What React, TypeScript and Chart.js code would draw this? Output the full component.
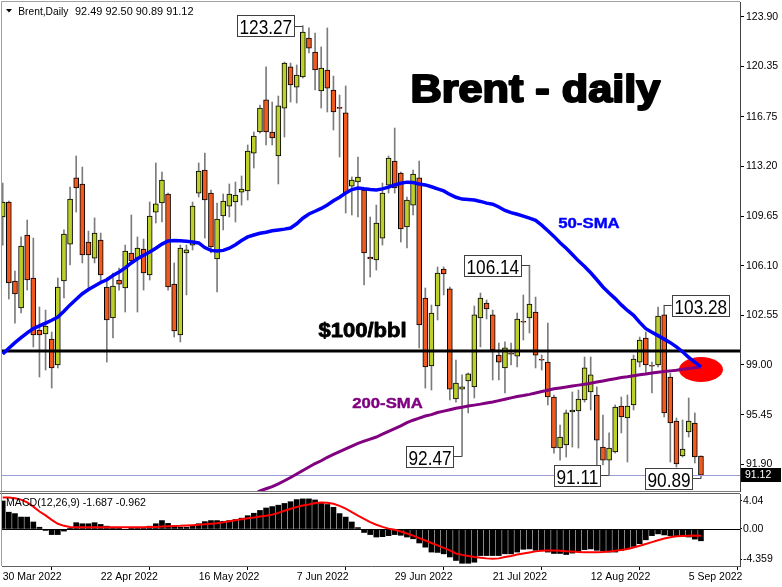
import React, { useEffect, useRef } from "react";
import { Chart, registerables } from "chart.js";
Chart.register(...registerables);

const FONT = "'Liberation Sans', Arial, sans-serif";

// Daily OHLC, 30 Mar 2022 .. 6 Sep 2022 (bar index 0..114)
const OPEN = [109.59,110.66,105.01,103.08,108.30,105.22,101.50,101.22,100.86,99.00,105.01,107.65,112.38,111.95,107.80,106.65,107.94,104.58,102.36,105.08,104.51,107.01,106.65,107.30,105.44,109.94,110.59,111.23,104.79,101.15,107.01,107.58,111.30,112.95,111.30,106.58,109.66,110.37,110.66,111.37,111.45,114.16,115.67,117.96,115.67,113.95,117.38,120.32,118.88,119.60,122.39,121.39,118.60,120.10,118.67,117.38,117.03,111.80,112.09,111.52,106.72,106.51,108.08,111.87,113.59,112.73,108.87,110.44,112.38,103.79,98.93,103.22,105.87,104.44,96.57,97.28,97.86,97.43,102.36,103.43,102.58,99.71,98.79,99.79,99.64,102.08,102.36,102.79,99.36,99.21,96.71,93.06,93.28,95.64,95.71,96.50,97.07,96.85,93.13,92.20,92.78,96.07,95.21,96.14,99.21,100.93,98.93,99.00,102.58,98.14,94.99,92.49,94.21,94.85,92.49];
const HIGH = [112.02,110.73,105.72,108.16,109.37,108.08,103.15,102.93,101.36,105.22,108.66,111.73,113.95,113.16,108.58,109.52,108.44,105.22,105.58,105.94,107.58,109.73,108.16,108.01,110.66,113.45,112.80,111.30,106.30,107.58,107.58,110.66,113.45,114.16,111.52,110.59,111.23,111.95,112.09,112.52,114.74,115.67,117.60,120.32,117.81,118.24,120.67,120.60,120.46,123.27,123.11,122.75,121.75,123.11,119.67,118.31,118.96,112.45,113.88,111.66,109.59,110.44,112.02,113.95,115.95,112.80,111.02,112.95,113.59,104.51,103.29,106.01,106.01,104.58,99.36,98.29,98.43,103.22,104.15,103.65,102.93,100.57,100.65,100.57,102.72,104.01,106.14,103.86,99.71,102.00,96.85,94.71,95.78,97.07,97.21,99.57,99.57,97.43,95.42,94.14,96.14,96.71,96.85,99.71,101.00,101.36,99.21,103.15,103.28,98.43,95.21,95.07,96.64,95.57,92.50];
const LOW = [107.58,103.72,102.00,102.72,104.36,100.29,98.14,98.64,97.35,98.79,103.79,106.15,109.94,106.30,104.36,106.30,104.94,99.21,100.93,104.36,102.79,106.30,102.79,104.36,105.08,109.16,109.23,104.36,101.00,100.65,104.01,107.23,111.02,108.08,107.01,104.22,108.66,109.59,109.23,110.44,110.80,113.09,115.59,114.74,114.74,111.95,115.31,117.81,117.74,119.53,121.32,118.67,117.38,117.10,115.81,113.88,109.87,109.73,109.59,104.72,105.29,105.79,107.58,111.30,111.30,107.80,107.37,109.73,100.22,97.35,97.21,102.22,104.01,96.50,96.35,92.47,95.57,96.64,100.29,102.29,97.93,97.93,97.00,99.00,98.86,100.79,101.29,98.79,98.64,96.14,92.70,92.20,92.42,93.13,93.06,96.35,95.78,91.70,91.85,91.11,92.70,94.14,92.06,95.78,98.86,98.43,97.00,98.86,95.28,92.06,91.70,92.42,93.85,91.99,90.89];
const CLOSE = [110.66,104.87,104.08,107.51,105.08,101.15,101.15,101.79,98.79,104.58,108.37,110.87,111.66,106.87,106.87,108.44,105.44,102.22,104.65,104.79,107.15,106.44,107.37,105.58,109.66,110.52,112.23,104.58,101.43,107.37,107.23,110.37,112.88,110.80,107.44,109.44,110.73,111.23,111.16,111.59,114.31,115.38,117.38,115.67,115.24,117.53,120.60,119.03,119.74,122.82,121.67,120.10,120.24,118.81,117.10,117.36,111.30,112.23,112.45,107.01,106.58,109.16,111.30,113.81,111.66,108.73,110.80,112.66,101.86,98.86,102.72,105.58,105.51,97.28,97.71,97.43,98.36,102.58,103.79,103.01,100.07,99.21,100.22,99.77,102.29,102.06,103.36,99.71,99.34,96.71,93.06,93.85,95.57,95.78,96.57,98.79,98.29,93.63,92.20,93.06,95.99,95.28,96.07,99.43,100.79,99.00,98.91,102.50,95.57,94.85,91.92,92.99,94.99,92.42,91.12];

const SMA50 = [99.79,100.2,100.6,100.95,101.3,101.6,101.8,102.0,102.2,102.43,102.85,103.3,103.7,104.1,104.4,104.65,104.9,105.1,105.4,105.65,105.95,106.3,106.6,106.85,107.08,107.35,107.65,107.87,107.9,107.88,107.85,107.8,107.73,107.4,107.2,107.15,107.2,107.35,107.6,107.9,108.16,108.3,108.42,108.5,108.6,108.66,108.72,108.8,109.1,109.5,109.8,110.0,110.2,110.45,110.75,111.0,111.3,111.55,111.66,111.6,111.55,111.52,111.6,111.72,111.88,112.0,112.08,112.05,111.95,111.88,111.75,111.6,111.45,111.2,111.0,110.87,110.84,110.8,110.7,110.58,110.5,110.3,110.05,109.9,109.78,109.65,109.5,109.35,109.0,108.6,108.2,107.75,107.35,106.9,106.45,106.05,105.6,105.1,104.58,104.15,103.75,103.3,102.9,102.55,102.05,101.6,101.35,101.1,100.85,100.6,100.3,99.95,99.55,99.2,98.86];
const SMA200 = [null,null,null,null,null,null,null,null,null,null,null,null,null,null,null,null,null,null,null,null,null,null,null,null,null,null,null,null,null,null,null,null,null,null,null,null,null,null,null,null,null,89.75,89.99,90.15,90.3,90.5,90.72,90.95,91.2,91.45,91.7,91.95,92.15,92.4,92.6,92.8,93.0,93.2,93.4,93.55,93.7,93.85,94.05,94.25,94.45,94.65,94.88,95.05,95.2,95.35,95.45,95.6,95.7,95.8,95.9,95.98,96.06,96.13,96.2,96.28,96.35,96.45,96.55,96.65,96.75,96.82,96.9,97.0,97.1,97.2,97.3,97.36,97.42,97.5,97.56,97.62,97.7,97.78,97.86,97.94,98.02,98.1,98.16,98.23,98.3,98.36,98.43,98.48,98.53,98.58,98.63,98.69,98.75,98.8,98.86];

const MACD = [4.0,2.4,2.2,1.7,1.7,1.0,0.25,-0.2,-0.8,-0.8,-0.3,0.1,0.9,0.75,0.75,0.9,0.65,0.4,0.25,0.05,-0.1,0.05,0.2,0.2,0.4,0.75,1.2,0.8,0.4,0.25,0.25,0.45,0.75,1.05,1.2,1.2,1.1,1.2,1.35,1.55,1.9,2.25,2.65,3.0,3.2,3.4,3.65,3.9,4.2,4.3,4.3,4.15,3.8,3.5,3.1,2.2,1.7,1.0,0.2,-0.5,-0.8,-1.15,-1.1,-0.95,-0.8,-0.9,-1.15,-1.4,-2.0,-2.6,-3.3,-3.35,-3.55,-4.0,-4.5,-4.9,-4.9,-4.75,-3.8,-3.8,-3.8,-3.8,-3.55,-3.55,-3.3,-2.9,-2.85,-3.05,-3.05,-3.3,-3.5,-3.5,-3.65,-3.45,-3.2,-2.95,-2.85,-3.05,-3.15,-3.3,-3.3,-3.05,-2.85,-2.5,-2.1,-1.55,-0.95,-0.7,-0.85,-0.95,-1.05,-1.1,-1.15,-1.45,-1.687];
const SIGNAL = [4.5,4.5,4.4,4.2,3.8,3.2,2.5,1.95,1.3,0.75,0.45,0.3,0.25,0.25,0.25,0.25,0.25,0.25,0.25,0.25,0.25,0.25,0.25,0.25,0.28,0.3,0.35,0.4,0.42,0.45,0.5,0.55,0.6,0.67,0.75,0.82,0.95,1.1,1.25,1.38,1.52,1.65,1.8,1.9,2.05,2.3,2.6,2.9,3.15,3.35,3.5,3.7,3.8,3.75,3.6,3.3,2.9,2.4,1.9,1.45,0.98,0.6,0.3,0.05,-0.1,-0.35,-0.65,-0.95,-1.3,-1.65,-2.0,-2.35,-2.7,-3.05,-3.5,-3.7,-3.85,-4.0,-4.1,-4.2,-4.26,-4.2,-4.0,-3.85,-3.64,-3.5,-3.35,-3.2,-3.1,-3.07,-3.07,-3.1,-3.17,-3.22,-3.28,-3.31,-3.31,-3.31,-3.3,-3.22,-3.1,-3.0,-2.85,-2.65,-2.4,-2.15,-1.88,-1.6,-1.35,-1.17,-1.05,-1.0,-0.95,-0.93,-0.962];

const PRICE_TICKS = [123.9, 120.35, 116.75, 113.2, 109.65, 106.1, 102.55, 99.0, 95.45, 91.9];
const MACD_TICKS = [4.04, 0, -4.359];
const DATE_TICK_BARS = [0, 16, 32, 48, 64, 80, 96, 112];
const DATE_LABELS = ["30 Mar 2022", "22 Apr 2022", "16 May 2022", "7 Jun 2022", "29 Jun 2022", "21 Jul 2022", "12 Aug 2022", "5 Sep 2022"];

const LEVEL_100 = 100;
const ELLIPSE_BAR = 114;
const ELLIPSE_PRICE = 98.68;
const PRICE_LABELS = [
  { bar: 49, price: 123.27, side: "left" },
  { bar: 86, price: 106.14, side: "left" },
  { bar: 108, price: 103.28, side: "right" },
  { bar: 75, price: 92.47, side: "left" },
  { bar: 99, price: 91.11, side: "left" },
  { bar: 114, price: 90.89, side: "left" },
];

const X_MIN = -0.1143;
const X_MAX = 120.376;
const PRICE_MIN = 89.987;
const PRICE_MAX = 124.966;
const MACD_MIN = -5.29;
const MACD_MAX = 5.0;

const BULL = "#bccf2a";
const BEAR = "#f05a1e";

function fitText(ctx: CanvasRenderingContext2D, text: string, x: number, y: number, width: number, font: string, color: string, stroke = 0) {
  ctx.save();
  ctx.font = font;
  ctx.fillStyle = color;
  ctx.strokeStyle = color;
  ctx.textBaseline = "alphabetic";
  ctx.textAlign = "left";
  const w = ctx.measureText(text).width + stroke;
  ctx.translate(x + stroke / 2, y);
  ctx.scale(width / w, 1);
  ctx.fillText(text, 0, 0);
  if (stroke > 0) {
    ctx.lineWidth = stroke;
    ctx.lineJoin = "round";
    ctx.strokeText(text, 0, 0);
  }
  ctx.restore();
}

export default function App() {
  const mainRef = useRef<HTMLCanvasElement>(null);
  const macdRef = useRef<HTMLCanvasElement>(null);

  useEffect(() => {
    document.body.style.margin = "0";
    const idx = OPEN.map((_, i) => i);
    const last = OPEN.length - 1;

    const mainPlugin = {
      id: "mainDecor",
      beforeDatasetDraw(chart: any, args: any) {
        if (args.index === 2) {
          const { x, y } = chart.scales;
          const ctx = chart.ctx;
          ctx.save();
          ctx.fillStyle = "#ff0000";
          ctx.beginPath();
          ctx.ellipse(x.getPixelForValue(ELLIPSE_BAR), y.getPixelForValue(ELLIPSE_PRICE), 22, 12.5, 0, 0, Math.PI * 2);
          ctx.fill();
          ctx.restore();
        }
      },
      afterDatasetDraw(chart: any, args: any) {
        if (args.index === 1) {
          const { y } = chart.scales;
          const a = chart.chartArea;
          const ctx = chart.ctx;
          ctx.save();
          const by = Math.round(y.getPixelForValue(CLOSE[last])) + 0.5;
          ctx.strokeStyle = "#9a9ad6";
          ctx.lineWidth = 1;
          ctx.beginPath();
          ctx.moveTo(a.left, by);
          ctx.lineTo(a.right, by);
          ctx.stroke();
          const ly = y.getPixelForValue(LEVEL_100);
          ctx.strokeStyle = "#000";
          ctx.lineWidth = 3;
          ctx.beginPath();
          ctx.moveTo(a.left, ly);
          ctx.lineTo(a.right, ly);
          ctx.stroke();
          ctx.restore();
        }
      },
      afterDraw(chart: any) {
        const ctx: CanvasRenderingContext2D = chart.ctx;
        const { x, y } = chart.scales;
        const a = chart.chartArea;
        ctx.save();
        ctx.strokeStyle = "#a0a0a0";
        ctx.lineWidth = 1;
        ctx.beginPath();
        ctx.moveTo(1.5, chart.height);
        ctx.lineTo(1.5, 1.5);
        ctx.lineTo(a.right, 1.5);
        ctx.stroke();
        ctx.strokeStyle = "#808080";
        ctx.beginPath();
        ctx.moveTo(0, 491.5);
        ctx.lineTo(a.right, 491.5);
        ctx.stroke();

        ctx.fillStyle = "#000";
        ctx.beginPath();
        ctx.moveTo(6, 9);
        ctx.lineTo(12, 9);
        ctx.lineTo(9, 12.5);
        ctx.closePath();
        ctx.fill();
        fitText(ctx, "Brent,Daily", 18.3, 14.5, 50, `11px ${FONT}`, "#000");
        fitText(ctx, `${OPEN[last].toFixed(2)} ${HIGH[last].toFixed(2)} ${LOW[last].toFixed(2)} ${CLOSE[last].toFixed(2)}`, 75, 14.5, 118.5, `11px ${FONT}`, "#000");

        fitText(ctx, "Brent - daily", 409.5, 102, 252, `bold 38px ${FONT}`, "#000", 2);
        fitText(ctx, "$100/bbl", 318, 337, 89, `bold 20px ${FONT}`, "#000", 0.8);
        fitText(ctx, "50-SMA", 558, 228, 62, `bold 14px ${FONT}`, "#0000ff", 0.4);
        fitText(ctx, "200-SMA", 352, 408, 71, `bold 15px ${FONT}`, "#800080", 0.4);

        for (const p of PRICE_LABELS) {
          const px = x.getPixelForValue(p.bar);
          const py = y.getPixelForValue(p.price);
          const text = p.price.toFixed(2);
          ctx.font = `21px ${FONT}`;
          const tw = ctx.measureText(text).width * 0.82;
          const bw = tw + 4;
          const bh = 21;
          const bx = p.side === "left" ? px - 9 - bw : px + 7.5;
          const byy = py - bh / 2;
          ctx.strokeStyle = "#404040";
          ctx.lineWidth = 1;
          ctx.beginPath();
          if (p.side === "left") {
            ctx.moveTo(bx + bw, Math.round(py) + 0.5);
            ctx.lineTo(px, Math.round(py) + 0.5);
          } else {
            ctx.moveTo(px, Math.round(py) + 0.5);
            ctx.lineTo(bx, Math.round(py) + 0.5);
          }
          ctx.stroke();
          ctx.fillStyle = "#fff";
          ctx.fillRect(Math.round(bx) + 0.5, Math.round(byy) + 0.5, Math.round(bw), bh);
          ctx.strokeRect(Math.round(bx) + 0.5, Math.round(byy) + 0.5, Math.round(bw), bh);
          ctx.save();
          ctx.fillStyle = "#000";
          ctx.textBaseline = "alphabetic";
          ctx.translate(Math.round(bx) + 2.5, Math.round(byy) + 18.5);
          ctx.scale(0.82, 1);
          ctx.fillText(text, 0, 0);
          ctx.restore();
        }

        const ty = y.getPixelForValue(CLOSE[last]);
        ctx.fillStyle = "#000";
        ctx.fillRect(741, Math.round(ty) - 7, 40, 14);
        ctx.fillStyle = "#fff";
        ctx.font = `10.5px ${FONT}`;
        ctx.textBaseline = "middle";
        ctx.fillText(CLOSE[last].toFixed(2), 745, Math.round(ty) + 0.5);
        ctx.restore();
      },
    };

    const main = new Chart(mainRef.current as HTMLCanvasElement, {
      type: "bar",
      data: {
        datasets: [
          {
            type: "bar",
            label: "wick",
            data: idx.map((i) => ({ x: i, y: [LOW[i], HIGH[i]] })) as any,
            backgroundColor: "#7c7c7c",
            borderWidth: 0,
            barThickness: 1,
            grouped: false,
            order: 10,
          } as any,
          {
            type: "bar",
            label: "body",
            data: idx.map((i) => ({ x: i, y: [OPEN[i], CLOSE[i]] })) as any,
            backgroundColor: idx.map((i) => (CLOSE[i] >= OPEN[i] ? BULL : BEAR)),
            borderColor: "#000",
            borderWidth: 1,
            borderSkipped: false,
            barThickness: 5,
            minBarLength: 1,
            grouped: false,
            order: 9,
          } as any,
          {
            type: "line",
            label: "200-SMA",
            data: idx.map((i) => ({ x: i, y: SMA200[i] })) as any,
            borderColor: "#800080",
            borderWidth: 3,
            pointRadius: 0,
            order: 2,
          } as any,
          {
            type: "line",
            label: "50-SMA",
            data: idx.map((i) => ({ x: i, y: SMA50[i] })) as any,
            borderColor: "#0000ff",
            borderWidth: 3.5,
            pointRadius: 0,
            order: 1,
          } as any,
        ],
      },
      options: {
        animation: false,
        responsive: false,
        devicePixelRatio: 1,
        events: [],
        layout: { padding: { left: 2, top: 2, right: 0, bottom: 1 } },
        plugins: { legend: { display: false }, tooltip: { enabled: false } },
        scales: {
          x: { type: "linear", display: false, min: X_MIN, max: X_MAX, offset: false },
          y: {
            position: "right",
            min: PRICE_MIN,
            max: PRICE_MAX,
            afterBuildTicks: (s: any) => {
              s.ticks = PRICE_TICKS.map((v) => ({ value: v }));
            },
            afterFit: (s: any) => {
              s.width = 42;
              s.paddingTop = 0;
              s.paddingBottom = 0;
            },
            ticks: {
              callback: (v: any) => Number(v).toFixed(2),
              font: { family: FONT, size: 10.5 },
              color: "#000",
              padding: 2,
              autoSkip: false,
            },
            grid: { drawOnChartArea: false, drawTicks: true, tickLength: 4, color: "#000" },
            border: { display: true, color: "#404040", width: 1 },
          },
        },
      } as any,
      plugins: [mainPlugin],
    });

    const macdPlugin = {
      id: "macdDecor",
      beforeDatasetsDraw(chart: any) {
        const ctx = chart.ctx;
        const a = chart.chartArea;
        const zy = Math.round(chart.scales.y.getPixelForValue(0)) + 0.5;
        ctx.save();
        ctx.strokeStyle = "#000";
        ctx.lineWidth = 1;
        ctx.beginPath();
        ctx.moveTo(a.left, zy);
        ctx.lineTo(a.right, zy);
        ctx.stroke();
        ctx.restore();
      },
      afterDraw(chart: any) {
        const ctx: CanvasRenderingContext2D = chart.ctx;
        const a = chart.chartArea;
        ctx.save();
        ctx.strokeStyle = "#606060";
        ctx.lineWidth = 1;
        ctx.beginPath();
        ctx.moveTo(0, 1.5);
        ctx.lineTo(a.right, 1.5);
        ctx.stroke();
        ctx.strokeStyle = "#a0a0a0";
        ctx.beginPath();
        ctx.moveTo(1.5, 0);
        ctx.lineTo(1.5, a.bottom);
        ctx.stroke();
        fitText(ctx, `MACD(12,26,9) ${MACD[last].toFixed(3)} ${SIGNAL[last].toFixed(3)}`, 6, 14, 140, `11px ${FONT}`, "#000");
        ctx.restore();
      },
    };

    const macd = new Chart(macdRef.current as HTMLCanvasElement, {
      type: "bar",
      data: {
        datasets: [
          {
            type: "bar",
            label: "MACD",
            data: idx.map((i) => ({ x: i, y: MACD[i] })) as any,
            backgroundColor: "#000",
            borderWidth: 0,
            barThickness: 5,
            order: 2,
          } as any,
          {
            type: "line",
            label: "Signal",
            data: idx.map((i) => ({ x: i, y: SIGNAL[i] })) as any,
            borderColor: "#ff0000",
            borderWidth: 2,
            pointRadius: 0,
            order: 1,
          } as any,
        ],
      },
      options: {
        animation: false,
        responsive: false,
        devicePixelRatio: 1,
        events: [],
        layout: { padding: { left: 2, top: 2, right: 0, bottom: 0 } },
        plugins: { legend: { display: false }, tooltip: { enabled: false } },
        scales: {
          x: {
            type: "linear",
            min: X_MIN,
            max: X_MAX,
            offset: false,
            afterBuildTicks: (s: any) => {
              s.ticks = DATE_TICK_BARS.map((v) => ({ value: v }));
            },
            afterFit: (s: any) => {
              s.height = 21;
              s.paddingLeft = 0;
              s.paddingRight = 0;
            },
            ticks: {
              align: "start",
              callback: (_v: any, i: number) => DATE_LABELS[i],
              font: { family: FONT, size: 10.5 },
              color: "#000",
              padding: 1,
              maxRotation: 0,
              autoSkip: false,
            },
            grid: { drawOnChartArea: false, drawTicks: true, tickLength: 4, color: "#000" },
            border: { display: true, color: "#606060", width: 1 },
          },
          y: {
            position: "right",
            min: MACD_MIN,
            max: MACD_MAX,
            afterBuildTicks: (s: any) => {
              s.ticks = MACD_TICKS.map((v) => ({ value: v }));
            },
            afterFit: (s: any) => {
              s.width = 42;
              s.paddingTop = 0;
              s.paddingBottom = 0;
            },
            ticks: {
              callback: (v: any) => (Number(v) === 0 ? "0.00" : String(v)),
              font: { family: FONT, size: 10.5 },
              color: "#000",
              padding: 1,
              autoSkip: false,
            },
            grid: { drawOnChartArea: false, drawTicks: true, tickLength: 2, color: "#000" },
            border: { display: true, color: "#404040", width: 1 },
          },
        },
      } as any,
      plugins: [macdPlugin],
    });

    return () => {
      main.destroy();
      macd.destroy();
    };
  }, []);

  return (
    <div style={{ position: "absolute", left: 0, top: 0, width: 782, height: 587, background: "#fff" }}>
      <canvas ref={mainRef} width={782} height={492} style={{ position: "absolute", left: 0, top: 0, width: 782, height: 492 }} />
      <canvas ref={macdRef} width={782} height={95} style={{ position: "absolute", left: 0, top: 492, width: 782, height: 95 }} />
    </div>
  );
}
